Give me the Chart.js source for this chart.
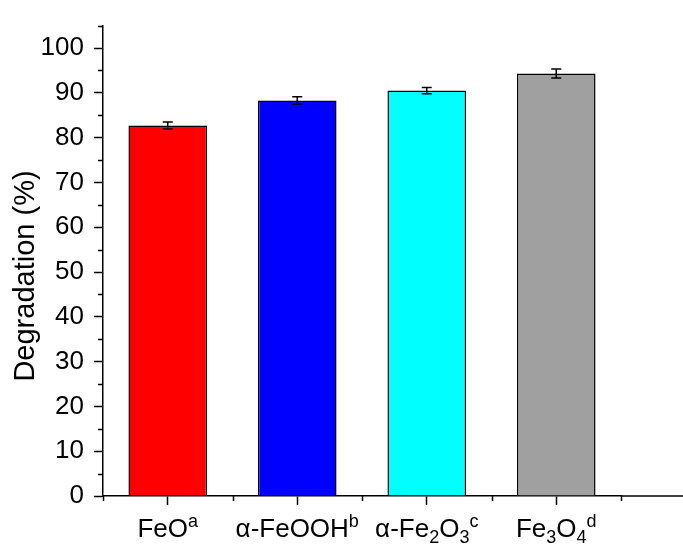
<!DOCTYPE html>
<html>
<head>
<meta charset="utf-8">
<script src="https://cdn.jsdelivr.net/npm/chart.js@4/dist/chart.umd.min.js"></script>
<style>
  html, body { margin: 0; padding: 0; background: #fff; overflow: hidden; }
  #wrap { width: 683px; height: 546px; position: relative; }
</style>
</head>
<body>
<div id="wrap"><canvas id="degradationChart"></canvas></div>
<script>
const categories = ['FeO', 'α-FeOOH', 'α-Fe2O3', 'Fe3O4'];
const degradation = [82.7, 88.3, 90.5, 94.3];
const errors = [0.8, 0.8, 0.7, 1.0];
const barColors = ['#ff0000', '#0000ff', '#00ffff', '#a0a0a0'];
const yTicks = [0, 10, 20, 30, 40, 50, 60, 70, 80, 90, 100];
const yMinorTicks = [5, 15, 25, 35, 45, 55, 65, 75, 85, 95, 105];
const yTitle = 'Degradation (%)';

// label pieces: [text, 'sup' | 'sub' | '']
const labelParts = [
    [['FeO', ''], ['a', 'sup']],
    [['α-FeOOH', ''], ['b', 'sup']],
    [['α-Fe', ''], ['2', 'sub'], ['O', ''], ['3', 'sub'], ['c', 'sup']],
    [['Fe', ''], ['3', 'sub'], ['O', ''], ['4', 'sub'], ['d', 'sup']]
];

const FONT = '"Liberation Sans", Arial, sans-serif';

const errorBars = {
    id: 'errorBars',
    afterDatasetsDraw(chart) {
        const ctx = chart.ctx;
        const y = chart.scales.y;
        const meta = chart.getDatasetMeta(0);
        ctx.save();
        ctx.strokeStyle = '#000';
        ctx.lineWidth = 1.5;
        meta.data.forEach((bar, i) => {
            const top = y.getPixelForValue(degradation[i] + errors[i]);
            const bot = y.getPixelForValue(degradation[i] - errors[i]);
            const half = 5;
            ctx.beginPath();
            ctx.moveTo(bar.x, top); ctx.lineTo(bar.x, bot);
            ctx.moveTo(bar.x - half, top); ctx.lineTo(bar.x + half, top);
            ctx.moveTo(bar.x - half, bot); ctx.lineTo(bar.x + half, bot);
            ctx.stroke();
        });
        ctx.restore();
    }
};

const axisExtras = {
    id: 'axisExtras',
    afterDraw(chart) {
        const ctx = chart.ctx;
        const x = chart.scales.x;
        const y = chart.scales.y;
        const area = chart.chartArea;
        ctx.save();
        ctx.strokeStyle = '#000';
        ctx.lineWidth = 1.5;

        // bottom axis runs on to the right edge
        ctx.beginPath();
        ctx.moveTo(area.right, area.bottom);
        ctx.lineTo(chart.width, area.bottom);
        ctx.stroke();

        // minor ticks
        ctx.beginPath();
        yMinorTicks.forEach(v => {
            const py = Math.round(y.getPixelForValue(v)) + 0.5;
            ctx.moveTo(area.left, py); ctx.lineTo(area.left - 5, py);
        });
        for (let i = 0; i <= categories.length; i++) {
            const px = Math.round(x.getPixelForValue(i - 0.5)) + 0.5;
            ctx.moveTo(px, area.bottom); ctx.lineTo(px, area.bottom + 5);
        }
        ctx.stroke();

        // category labels with sub/superscripts
        ctx.fillStyle = '#000';
        ctx.textBaseline = 'alphabetic';
        ctx.textAlign = 'left';
        const base = 537;
        const big = 26, small = 18;
        labelParts.forEach((parts, i) => {
            let w = 0;
            parts.forEach(([t, kind]) => {
                ctx.font = (kind ? small : big) + 'px ' + FONT;
                w += ctx.measureText(t).width;
            });
            let cx = x.getPixelForValue(i) - w / 2;
            parts.forEach(([t, kind]) => {
                ctx.font = (kind ? small : big) + 'px ' + FONT;
                let dy = 0;
                if (kind === 'sup') dy = -10;
                if (kind === 'sub') dy = 6;
                ctx.fillText(t, cx, base + dy);
                cx += ctx.measureText(t).width;
            });
        });

        // y axis title
        ctx.font = '29px ' + FONT;
        ctx.textAlign = 'center';
        ctx.textBaseline = 'middle';
        ctx.translate(26, 276);
        ctx.rotate(-Math.PI / 2);
        ctx.fillText(yTitle, 0, 0);
        ctx.restore();
    }
};

new Chart(document.getElementById('degradationChart'), {
    type: 'bar',
    data: {
        labels: categories,
        datasets: [{
            data: degradation,
            backgroundColor: barColors,
            borderColor: '#000',
            borderWidth: 1.5,
            barPercentage: 0.607,
            categoryPercentage: 1
        }]
    },
    options: {
        responsive: true,
        maintainAspectRatio: false,
        animation: false,
        layout: { padding: { top: 15, right: 62, left: 0, bottom: 0 } },
        plugins: {
            legend: { display: false },
            tooltip: { enabled: false }
        },
        scales: {
            x: {
                grid: { display: true, drawOnChartArea: false, tickLength: 9, tickWidth: 1.5, tickColor: '#000', offset: false },
                border: { display: true, color: '#000', width: 1.5 },
                ticks: { display: false },
                afterFit: s => { s.height = 50; }
            },
            y: {
                min: 0,
                max: 105,
                afterBuildTicks: s => { s.ticks = yTicks.map(v => ({ value: v })); },
                grid: { display: true, drawOnChartArea: false, tickLength: 9, tickWidth: 1.5, tickColor: '#000' },
                border: { display: true, color: '#000', width: 1.5 },
                ticks: { color: '#000', padding: 10, font: { family: FONT, size: 26 } },
                afterFit: s => { s.width = 103; }
            }
        }
    },
    plugins: [errorBars, axisExtras]
});
</script>
</body>
</html>
